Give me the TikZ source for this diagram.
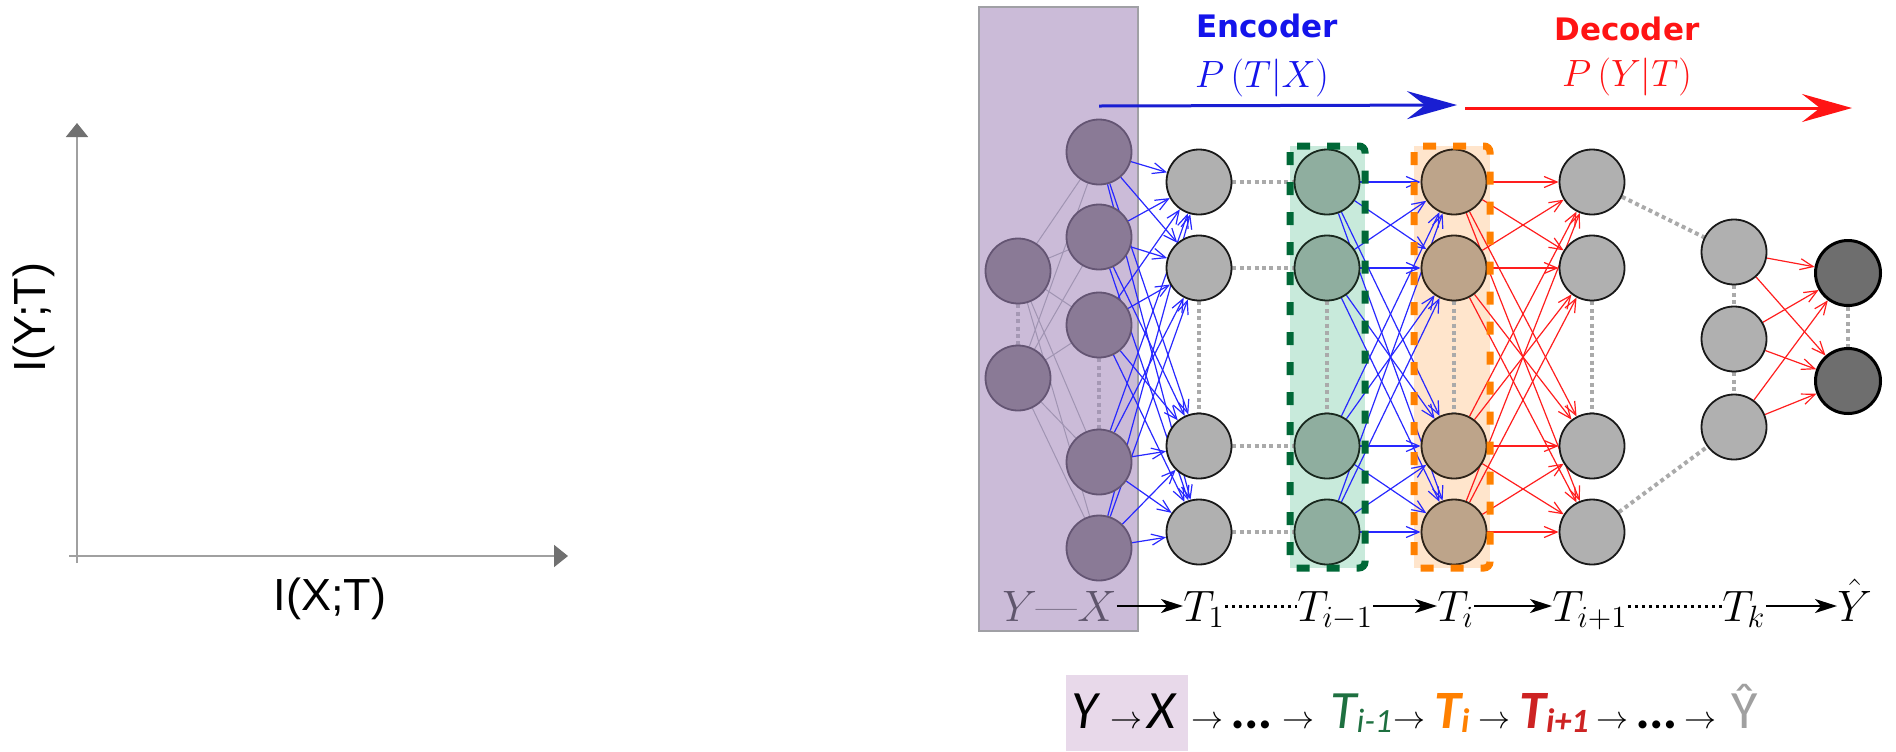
\RequirePackage{fix-cm}
\documentclass[tikz,border=0pt]{standalone}
\usepackage{fontspec}
\newfontfamily\arialf{Liberation Sans}
\newfontfamily\dejaf{DejaVu Sans}
\newfontfamily\calib{Carlito}
\usetikzlibrary{arrows.meta,calc}
\definecolor{nodegray}{RGB}{176,176,176}
\definecolor{nodeline}{RGB}{25,25,25}
\definecolor{purfill}{RGB}{138,122,150}
\definecolor{purline}{RGB}{100,85,115}
\definecolor{purbox}{RGB}{203,187,216}
\definecolor{purboxline}{RGB}{160,160,165}
\definecolor{purlink}{RGB}{160,148,178}
\definecolor{dotpur}{RGB}{165,152,180}
\definecolor{grnfill}{RGB}{143,174,159}
\definecolor{grnline}{RGB}{25,40,30}
\definecolor{orgfill}{RGB}{189,164,138}
\definecolor{orgline}{RGB}{45,35,25}
\definecolor{outfill}{RGB}{110,110,110}
\definecolor{grnboxfill}{RGB}{200,234,219}
\definecolor{grndash}{RGB}{0,104,55}
\definecolor{orgboxfill}{RGB}{255,229,204}
\definecolor{orgdash}{RGB}{255,128,0}
\definecolor{edgeblue}{RGB}{40,40,255}
\definecolor{edgered}{RGB}{255,30,30}
\definecolor{encblue}{RGB}{25,30,210}
\definecolor{enctext}{RGB}{20,20,235}
\definecolor{decred}{RGB}{255,20,20}
\definecolor{dotgray}{RGB}{170,170,170}
\definecolor{axgray}{RGB}{160,160,160}
\definecolor{axdark}{RGB}{112,112,112}
\definecolor{yxgray}{RGB}{95,85,108}
\definecolor{pinkbox}{RGB}{232,217,234}
\definecolor{seqgreen}{RGB}{30,112,64}
\definecolor{seqorange}{RGB}{255,128,0}
\definecolor{seqred}{RGB}{205,35,35}
\definecolor{seqgray}{RGB}{160,160,160}
\pgfdeclarelayer{boxes}
\pgfdeclarelayer{edges}
\pgfdeclarelayer{top}
\pgfsetlayers{boxes,edges,main,top}
\begin{document}
\begin{tikzpicture}[x=0.5pt,y=-0.5pt,
  nd/.style={circle,minimum size=32.5pt,inner sep=0pt,line width=0.9pt},
  grayn/.style={nd,fill=nodegray,draw=nodeline},
  purn/.style={nd,fill=purfill,draw=purline},
  grnn/.style={nd,fill=grnfill,draw=grnline},
  orgn/.style={nd,fill=orgfill,draw=orgline},
  outn/.style={nd,fill=outfill,draw=black,line width=1.5pt},
  dotl/.style={draw=dotgray,line width=2pt,dash pattern=on 2pt off 1.7pt},
  dotp/.style={draw=dotpur,line width=2pt,dash pattern=on 2pt off 1.7pt},
  plink/.style={draw=purlink,line width=0.5pt},
  bedge/.style={draw=edgeblue,line width=0.6pt,-{Straight Barb[length=6.5pt,width=5.5pt]}},
  redge/.style={draw=edgered,line width=0.6pt,-{Straight Barb[length=6.5pt,width=5.5pt]}},
  encarr/.style={draw=encblue,line width=1.5pt,-{Stealth[length=25pt,width=14pt,inset=9pt]}},
  decarr/.style={draw=decred,line width=1.5pt,-{Stealth[length=25pt,width=14pt,inset=9pt]}},
  axisl/.style={draw=axgray,line width=1pt,-{Triangle[length=7pt,width=11pt,color=axdark]}},
  axlab/.style={inner sep=0pt,font=\arialf\fontsize{22.5}{26}\selectfont},
  lab/.style={inner sep=0pt,anchor=base west,text height=15pt,text depth=0pt,font=\fontsize{22}{26}\selectfont},
  labarr/.style={draw=black,line width=1pt,-{Stealth[length=11pt,width=7pt,inset=3pt]}},
  labdots/.style={draw=black,line width=1.5pt,dash pattern=on 1.5pt off 2pt},
  seqt/.style={inner sep=0pt,anchor=base west,font=\calib\itshape\fontsize{27}{30}\selectfont},
  seqb/.style={seqt,font=\calib\bfseries\itshape\fontsize{27}{30}\selectfont},
  seqa/.style={inner sep=0pt,anchor=base west,font=\fontsize{16}{16}\selectfont},
  grnframe/.style={draw=grndash,line width=3.5pt,dash pattern=on 6.5pt off 8.5pt,rounded corners=3pt},
  orgframe/.style={draw=orgdash,line width=3.5pt,dash pattern=on 6.5pt off 8.5pt,rounded corners=3pt}
]
\useasboundingbox (0,0) rectangle (1896,751);

% ---------- axes ----------
\coordinate (axO) at (77,563);
\coordinate (axY) at (77,123);
\coordinate (axXs) at (69,556);
\coordinate (axX) at (568,556);
\draw[axisl] (axO) -- (axY);
\draw[axisl] (axXs) -- (axX);
\node[axlab,rotate=90,anchor=base west] (ylab) at (46,373) {I(Y;T)};
\node[axlab,anchor=base] (xlab) at (330,610) {I(X;T)};

% ---------- boxes (background) ----------
\begin{pgfonlayer}{boxes}
  \filldraw[fill=purbox,draw=purboxline,line width=1pt] (979,7) rectangle (1138,631);
  \fill[grnboxfill] (1290,146) rectangle (1365,568);
  \fill[orgboxfill] (1414,146) rectangle (1490,568);
  \fill[pinkbox] (1066,675) rectangle (1188,751);
\end{pgfonlayer}

% ---------- nodes ----------
\node[purn] (p0a) at (1018,271) {};
\node[purn] (p0b) at (1018,378) {};
\foreach \n/\y in {a/152,b/237,c/325,d/462,e/548}
  \node[purn] (p1\n) at (1099,\y) {};
\foreach \n/\y in {1/182,2/268,3/446,4/532}{
  \node[grayn] (a\n) at (1199,\y) {};
  \node[grnn]  (b\n) at (1327,\y) {};
  \node[orgn]  (c\n) at (1454,\y) {};
  \node[grayn] (d\n) at (1592,\y) {};
}
\foreach \n/\y in {1/252,2/339,3/427}
  \node[grayn] (k\n) at (1734,\y) {};
\node[outn] (o1) at (1848,273) {};
\node[outn] (o2) at (1848,381) {};

% ---------- edges ----------
\begin{pgfonlayer}{edges}
  \foreach \i in {a,b}
    \foreach \j in {a,b,c,d,e}
      \draw[plink] (p0\i) -- (p1\j);
  \foreach \i in {a,b,c,d,e}
    \foreach \j in {1,2,3,4}
      \draw[bedge] (p1\i) -- (a\j);
  \foreach \i in {1,2,3,4}
    \foreach \j in {1,2,3,4}{
      \draw[bedge] (b\i) -- (c\j);
      \draw[redge] (c\i) -- (d\j);
    }
  \foreach \i in {1,2,3}
    \foreach \j in {1,2}
      \draw[redge] (k\i) -- (o\j);
  % dotted links
  \draw[dotp] (p0a) -- (p0b);
  \draw[dotp] (p1c) -- (p1d);
  \foreach \l in {a,b,c,d}
    \draw[dotl] (\l2) -- (\l3);
  \foreach \r in {1,2,3,4}
    \draw[dotl] (a\r) -- (b\r);
  \draw[dotl] (d1) -- (k1);
  \draw[dotl] (d4) -- (k3);
  \draw[dotl] (k1) -- (k2);
  \draw[dotl] (k2) -- (k3);
  \draw[dotl] (o1) -- (o2);
\end{pgfonlayer}

% ---------- dashed frames ----------
\begin{pgfonlayer}{top}
  \draw[grnframe] (1290,146) rectangle (1365,568);
  \draw[orgframe] (1414,146) rectangle (1490,568);
\end{pgfonlayer}

% ---------- encoder / decoder ----------
\coordinate (encS) at (1099,106);
\coordinate (encE) at (1457,105);
\coordinate (decS) at (1465,108);
\coordinate (decE) at (1852,108);
\draw[encarr] (encS) -- (encE);
\draw[decarr] (decS) -- (decE);
\node[anchor=base,inner sep=0pt,text=enctext,font=\dejaf\bfseries\fontsize{15.5}{18}\selectfont] (enc) at (1267,37) {Encoder};
\node[anchor=base,inner sep=0pt,text=decred,font=\dejaf\bfseries\fontsize{15.5}{18}\selectfont] (dec) at (1627,40) {Decoder};
\node[anchor=base,inner sep=0pt,text=enctext,font=\fontsize{19}{22}\selectfont] (ptx) at (1262,87) {$P\left(T|X\right)$};
\node[anchor=base,inner sep=0pt,text=decred,font=\fontsize{19}{22}\selectfont] (pyt) at (1627,86) {$P\left(Y|T\right)$};

% ---------- layer labels ----------
\node[lab,text=yxgray] (lYX) at (1002,621) {$Y$---$X$};
\node[lab] (lT1) at (1183,621) {$T_1$};
\node[lab] (lTim) at (1297,621) {$T_{i-1}$};
\node[lab] (lTi) at (1437,621) {$T_i$};
\node[lab] (lTip) at (1552,621) {$T_{i+1}$};
\node[lab] (lTk) at (1722,621) {$T_k$};
\node[lab] (lYh) at (1837,621) {$\hat{Y}$};
\draw[labarr] (lYX) -- (lT1);
\draw[labdots] (lT1) -- (lTim);
\draw[labarr] (lTim) -- (lTi);
\draw[labarr] (lTi) -- (lTip);
\draw[labdots] (lTip) -- (lTk);
\draw[labarr] (lTk) -- (lYh);

% ---------- Markov chain sequence ----------
\node[seqt] (sY) at (1071,728) {Y};
\node[seqa] (sa1) at (1110,728) {$\rightarrow$};
\node[seqt] (sX) at (1147,728) {X};
\node[seqa] (sa2) at (1191,728) {$\rightarrow$};
\node[seqb] (sd1) at (1233,728) {…};
\node[seqa] (sa3) at (1282,728) {$\rightarrow$};
\node[seqt,text=seqgreen] (sTim) at (1330,728) {T\raisebox{-2pt}{\fontsize{17}{17}\selectfont i-1}};
\node[seqa] (sa4) at (1393,728) {$\rightarrow$};
\node[seqb,text=seqorange] (sTi) at (1434,728) {T\raisebox{-2pt}{\fontsize{17}{17}\selectfont i}};
\node[seqa] (sa5) at (1478,728) {$\rightarrow$};
\node[seqb,text=seqred] (sTip) at (1519,728) {T\raisebox{-2pt}{\fontsize{17}{17}\selectfont i+1}};
\node[seqa] (sa6) at (1596,728) {$\rightarrow$};
\node[seqb] (sd2) at (1638,728) {…};
\node[seqa] (sa7) at (1684,728) {$\rightarrow$};
\node[seqt,text=seqgray,font=\calib\fontsize{27}{30}\selectfont] (sYh) at (1731,728) {\^{Y}};
\end{tikzpicture}
\end{document}
